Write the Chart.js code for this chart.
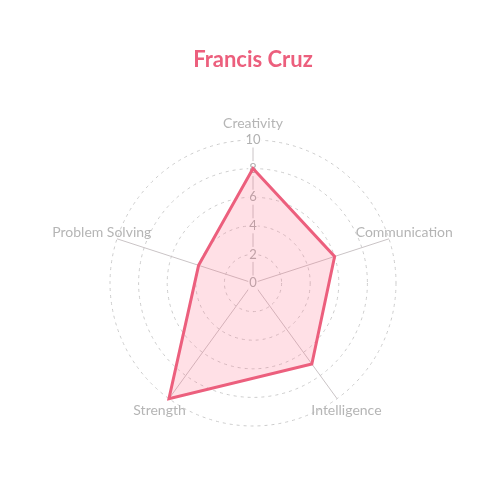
<!DOCTYPE html>
<html>
<head>
<meta charset="utf-8">
<script src="https://cdn.jsdelivr.net/npm/chart.js@4/dist/chart.umd.min.js"></script>
<style>
  html, body { margin: 0; padding: 0; background: #fff; }
  #wrap { width: 500px; height: 499px; }
</style>
</head>
<body>
<div id="wrap"><canvas id="skillChart"></canvas></div>
<script>
// data
const skills = ["Creativity", "Communication", "Intelligence", "Strength", "Problem Solving"];
const scores = [8, 6, 7, 10, 4];
const tickValues = [0, 2, 4, 6, 8, 10];

const pink = "rgb(236, 95, 125)";
const fontName = "Lato, 'Open Sans', sans-serif";

// labels sit centred just outside the outer ring
const centredLabels = {
  id: "centredLabels",
  afterDraw(chart) {
    const scale = chart.scales.r;
    const c = chart.ctx;
    c.save();
    c.font = "14px " + fontName;
    c.fillStyle = "#b5b5b5";
    c.textAlign = "center";
    c.textBaseline = "middle";
    chart.data.labels.forEach((lbl, i) => {
      const p = scale.getPointPosition(i, scale.drawingArea + 16);
      c.fillText(lbl, p.x, p.y - 1);
    });
    c.restore();
  }
};

const ctx = document.getElementById("skillChart").getContext("2d");

new Chart(ctx, {
  type: "radar",
  data: {
    labels: skills,
    datasets: [
      {
        label: "Francis Cruz",
        data: scores,
        borderColor: pink,
        backgroundColor: "rgba(255, 99, 132, 0.2)",
        borderWidth: 3,
        pointRadius: 0,
        fill: true
      }
    ]
  },
  plugins: [centredLabels],
  options: {
    responsive: true,
    maintainAspectRatio: false,
    animation: false,
    layout: { padding: { top: 37, bottom: 65, left: 16, right: 10 } },
    plugins: {
      legend: { display: false },
      title: {
        display: true,
        text: "Francis Cruz",
        color: pink,
        font: { family: fontName, size: 22, weight: "bold" },
        padding: { top: 10, bottom: 59 }
      }
    },
    scales: {
      r: {
        min: -0.0001, // so the "0" tick label is drawn too
        max: 10,
        afterBuildTicks: axis => { axis.ticks = tickValues.map(v => ({ value: v })); },
        ticks: {
          color: "#b0b0b0",
          font: { family: fontName, size: 13 },
          backdropColor: "#fff",
          backdropPadding: 1
        },
        grid: {
          circular: true,
          color: "#cccccc"
        },
        border: { dash: [3, 4] },
        angleLines: { color: "#cac4c6" },
        pointLabels: { display: false }
      }
    }
  }
});
</script>
</body>
</html>
